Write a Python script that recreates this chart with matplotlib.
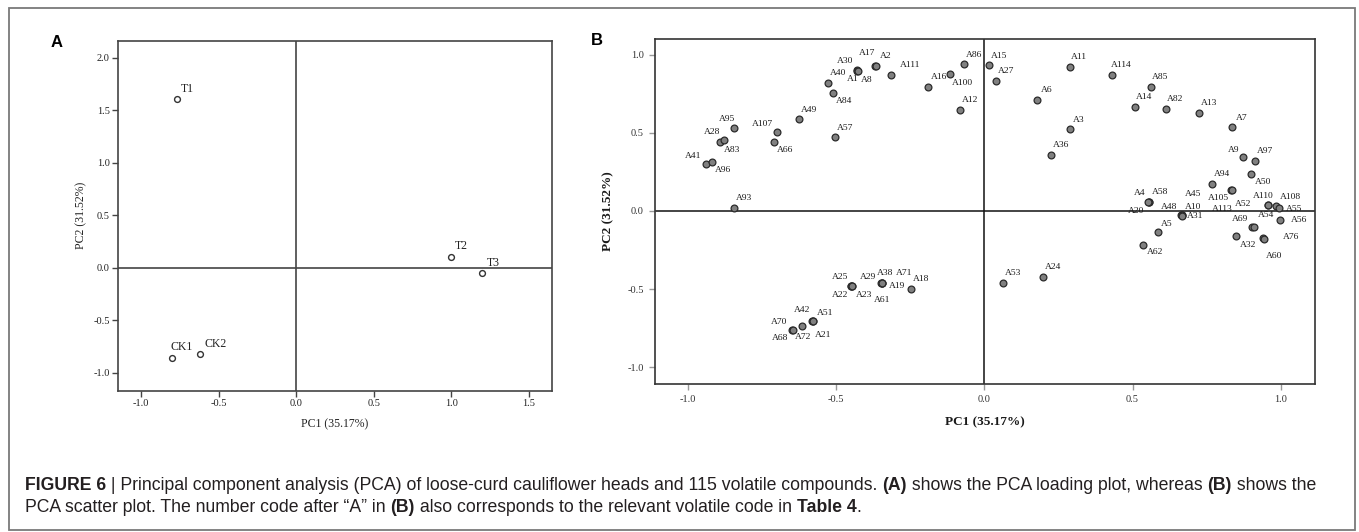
import matplotlib.pyplot as plt

plt.rcParams['axes.unicode_minus'] = False
plt.rcParams['font.family'] = ['Liberation Serif', 'DejaVu Serif']

# Panel A: loading plot of the samples
a_labels = ['T1', 'T2', 'T3', 'CK1', 'CK2']
a_pc1 = [-0.77, 1.00, 1.20, -0.80, -0.62]
a_pc2 = [1.61, 0.10, -0.05, -0.86, -0.82]

# Panel B: scatter plot of the volatile compounds
b_labels = ['A95', 'A28', 'A83', 'A41', 'A96', 'A93', 'A107', 'A66', 'A49', 'A57',
            'A84', 'A40', 'A30', 'A1', 'A8', 'A17', 'A2', 'A111', 'A16', 'A100',
            'A12', 'A86', 'A15', 'A27', 'A6', 'A11', 'A3', 'A36', 'A114', 'A85',
            'A14', 'A82', 'A13', 'A7', 'A9', 'A97', 'A50', 'A94', 'A105', 'A113',
            'A4', 'A58', 'A20', 'A45', 'A48', 'A10', 'A31', 'A110', 'A52', 'A108',
            'A55', 'A56', 'A69', 'A54', 'A32', 'A76', 'A60', 'A5', 'A62', 'A53',
            'A24', 'A25', 'A29', 'A22', 'A23', 'A38', 'A71', 'A19', 'A61', 'A18',
            'A42', 'A51', 'A21', 'A72', 'A70', 'A68']
b_pc1 = [-0.844, -0.891, -0.878, -0.938, -0.917, -0.843, -0.700, -0.709, -0.624, -0.503,
         -0.510, -0.528, -0.430, -0.428, -0.426, -0.370, -0.366, -0.314, -0.189, -0.116,
         -0.082, -0.067, 0.017, 0.040, 0.177, 0.288, 0.289, 0.225, 0.430, 0.562,
         0.507, 0.614, 0.723, 0.836, 0.871, 0.913, 0.900, 0.769, 0.833, 0.835,
         0.555, 0.557, 0.553, 0.666, 0.664, 0.668, 0.667, 0.957, 0.955, 0.982,
         0.995, 0.997, 0.904, 0.908, 0.850, 0.941, 0.943, 0.586, 0.536, 0.062,
         0.199, -0.449, -0.447, -0.448, -0.446, -0.346, -0.345, -0.347, -0.346, -0.246,
         -0.580, -0.578, -0.576, -0.615, -0.648, -0.646]
b_pc2 = [0.530, 0.438, 0.451, 0.299, 0.316, 0.017, 0.504, 0.440, 0.588, 0.470,
         0.754, 0.816, 0.899, 0.897, 0.894, 0.929, 0.926, 0.870, 0.793, 0.878,
         0.643, 0.942, 0.936, 0.833, 0.712, 0.923, 0.524, 0.361, 0.868, 0.793,
         0.662, 0.652, 0.626, 0.538, 0.346, 0.318, 0.235, 0.171, 0.133, 0.131,
         0.058, 0.060, 0.056, -0.026, -0.028, -0.028, -0.030, 0.036, 0.035, 0.032,
         0.019, -0.060, -0.100, -0.100, -0.162, -0.175, -0.177, -0.137, -0.218, -0.459,
         -0.421, -0.478, -0.479, -0.481, -0.480, -0.458, -0.460, -0.461, -0.462, -0.502,
         -0.702, -0.703, -0.705, -0.739, -0.762, -0.764]

a_ticks_x = [-1.0, -0.5, 0.0, 0.5, 1.0, 1.5]
a_ticks_y = [-1.0, -0.5, 0.0, 0.5, 1.0, 1.5, 2.0]
b_ticks = [-1.0, -0.5, 0.0, 0.5, 1.0]

# label offsets from the point, in pixels (right, down)
a_off = {'T1': (10, -10), 'T2': (10, -11), 'T3': (11, -10), 'CK1': (9, -11), 'CK2': (15, -10)}
b_off = {
    'A95': (-7, -9), 'A28': (-8, -10), 'A83': (8, 10), 'A41': (-13, -8), 'A96': (11, 8),
    'A93': (10, -10), 'A107': (-14, -8), 'A66': (11, 8), 'A49': (10, -9), 'A57': (10, -9),
    'A84': (11, 8), 'A40': (10, -10), 'A30': (-12, -9), 'A1': (-5, 8), 'A8': (9, 9),
    'A17': (-7, -13), 'A2': (10, -10), 'A111': (19, -10), 'A16': (11, -10), 'A100': (13, 9),
    'A12': (10, -10), 'A86': (10, -9), 'A15': (10, -9), 'A27': (10, -10), 'A6': (10, -10),
    'A11': (9, -10), 'A3': (9, -9), 'A36': (10, -10), 'A114': (9, -10), 'A85': (9, -10),
    'A14': (9, -10), 'A82': (9, -10), 'A13': (10, -10), 'A7': (9, -9), 'A9': (-9, -7),
    'A97': (10, -10), 'A50': (12, 8), 'A94': (10, -10), 'A105': (-13, 8), 'A113': (-10, 19),
    'A4': (-9, -9), 'A58': (11, -10), 'A20': (-12, 9), 'A45': (11, -21), 'A48': (-12, -8),
    'A10': (11, -8), 'A31': (13, 0), 'A110': (-5, -9), 'A52': (-24, -1), 'A108': (15, -9),
    'A55': (15, 1), 'A56': (19, 0), 'A69': (-12, -8), 'A54': (12, -12), 'A32': (12, 9),
    'A76': (28, -1), 'A60': (10, 17), 'A5': (9, -8), 'A62': (12, 7), 'A53': (10, -10),
    'A24': (10, -10), 'A25': (-11, -9), 'A29': (16, -9), 'A22': (-11, 9), 'A23': (12, 9),
    'A38': (3, -10), 'A71': (22, -10), 'A19': (16, 3), 'A61': (0, 17), 'A18': (10, -10),
    'A42': (-10, -11), 'A51': (12, -8), 'A21': (10, 14), 'A72': (1, 11), 'A70': (-13, -8),
    'A68': (-13, 8)}

W, H = 1359, 532
fig = plt.figure(figsize=(W / 100, H / 100), dpi=100)


def px_axes(l, t, r, b):
    return fig.add_axes([l / W, 1 - b / H, (r - l) / W, (b - t) / H])


# ---- panel A
axA = px_axes(118, 41, 552, 390.5)
axA.plot(a_pc1, a_pc2, 'o', ms=4.2, mfc='white', mec='#333333', mew=1.0, zorder=3)
for lab, x, y in zip(a_labels, a_pc1, a_pc2):
    dx, dy = a_off[lab]
    axA.annotate(lab, (x, y), xytext=(dx * 0.72, -dy * 0.72), textcoords='offset points',
                 ha='center', va='center', fontsize=8.5, color='#222222')
axA.axhline(0, color='#444444', lw=1.2, zorder=1)
axA.axvline(0, color='#444444', lw=1.2, zorder=1)
axA.set_xlim(-1.15, 1.65)
axA.set_ylim(-1.17, 2.16)
axA.set_xticks(a_ticks_x)
axA.set_yticks(a_ticks_y)
axA.set_xticklabels(['%.1f' % v for v in a_ticks_x])
axA.set_yticklabels(['%.1f' % v for v in a_ticks_y])
axA.tick_params(length=4, width=1, color='#444444', labelsize=7.5, labelcolor='#222222', pad=2)
for s in axA.spines.values():
    s.set_color('#444444')
    s.set_linewidth(1.2)
axA.set_xlabel('PC1 (35.17%)', fontsize=8.5, color='#222222', va='center')
axA.xaxis.set_label_coords(0.5, -0.098)
axA.set_ylabel('PC2 (31.52%)', fontsize=8.5, color='#222222', va='center')
axA.yaxis.set_label_coords(-0.085, 0.5)

# ---- panel B
axB = px_axes(655, 39, 1315, 384)
axB.scatter(b_pc1, b_pc2, s=24, c='#808080', edgecolors='#2a2a2a', linewidths=0.9, zorder=3)
for lab, x, y in zip(b_labels, b_pc1, b_pc2):
    dx, dy = b_off[lab]
    axB.annotate(lab, (x, y), xytext=(dx * 0.72, -dy * 0.72), textcoords='offset points',
                 ha='center', va='center', fontsize=6.8, color='#1a1a1a')
axB.axhline(0, color='#111111', lw=1.1, zorder=1)
axB.axvline(0, color='#111111', lw=1.1, zorder=1)
axB.set_xlim(-1.11, 1.115)
axB.set_ylim(-1.107, 1.10)
axB.set_xticks(b_ticks)
axB.set_yticks(b_ticks)
axB.set_xticklabels(['%.1f' % v for v in b_ticks])
axB.set_yticklabels(['%.1f' % v for v in b_ticks])
axB.tick_params(length=4, width=1, color='#999999', labelsize=7.5, labelcolor='#333333', pad=4)
for s in axB.spines.values():
    s.set_color('#333333')
    s.set_linewidth(1.2)
axB.set_xlabel('PC1 (35.17%)', fontsize=9.5, fontweight='bold', color='#1a1a1a', va='center')
axB.xaxis.set_label_coords(0.5, -0.11)
axB.set_ylabel('PC2 (31.52%)', fontsize=9.5, fontweight='bold', color='#1a1a1a', va='center')
axB.yaxis.set_label_coords(-0.071, 0.5)

# panel letters
fig.text(57 / W, 1 - 42.5 / H, 'A', fontsize=12, fontweight='bold', family='Liberation Sans',
         ha='center', va='center')
fig.text(597 / W, 1 - 40.5 / H, 'B', fontsize=12, fontweight='bold', family='Liberation Sans',
         ha='center', va='center')

# outer frame
fig.add_artist(plt.Rectangle((9 / W, 1 - 530 / H), (1355 - 9) / W, (530 - 8) / H,
                             transform=fig.transFigure, fill=False, ec='#7a7a7a', lw=1.3))

# ---- caption with bold runs
line1 = [('FIGURE 6', True),
         (' | Principal component analysis (PCA) of loose-curd cauliflower heads and 115 volatile compounds. ', False),
         ('(A)', True), (' shows the PCA loading plot, whereas ', False), ('(B)', True), (' shows the', False)]
line2 = [('PCA scatter plot. The number code after \u201cA\u201d in ', False), ('(B)', True),
         (' also corresponds to the relevant volatile code in ', False), ('Table 4', True), ('.', False)]

renderer = fig.canvas.get_renderer()


def text_w(s, bold, size):
    kw = dict(fontsize=size, fontweight='bold' if bold else 'normal', family='Liberation Sans')
    t1 = fig.text(0, 0, '|' + s + '|', **kw)
    t2 = fig.text(0, 0, '||', **kw)
    w = t1.get_window_extent(renderer).width - t2.get_window_extent(renderer).width
    t1.remove()
    t2.remove()
    return w


base = 12
total = sum(text_w(s, b, base) for s, b in line1)
size = base * (1322 - 25) / total


def draw_line(pieces, y_px):
    x = 25
    for s, b in pieces:
        fig.text(x / W, 1 - y_px / H, s, fontsize=size, fontweight='bold' if b else 'normal',
                 family='Liberation Sans', ha='left', va='baseline', color='#231f20')
        x += text_w(s, b, size)


draw_line(line1, 490)
draw_line(line2, 512)

fig.savefig('out.png', dpi=100)
